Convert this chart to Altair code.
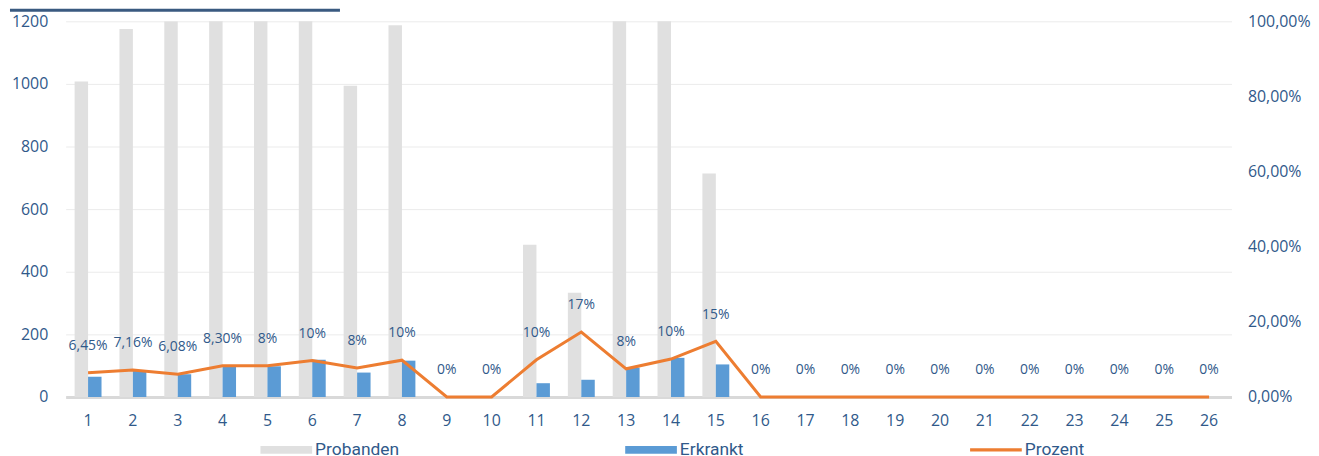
import altair as alt
import pandas as pd

gruppen = [str(i) for i in range(1, 27)]
probanden = [1008, 1175, 1200, 1205, 1225, 1210, 994, 1187, 0, 0, 486, 333, 1240, 1250, 714,
             0, 0, 0, 0, 0, 0, 0, 0, 0, 0, 0]
erkrankt = [65, 84, 73, 100, 98, 119, 78, 116, 0, 0, 44, 55, 94, 125, 104,
            0, 0, 0, 0, 0, 0, 0, 0, 0, 0, 0]
prozent = [0.0645, 0.0716, 0.0608, 0.083, 0.083, 0.097, 0.077, 0.098, 0, 0, 0.099, 0.173,
           0.075, 0.101, 0.148, 0, 0, 0, 0, 0, 0, 0, 0, 0, 0, 0]
prozent_labels = ["6,45%", "7,16%", "6,08%", "8,30%", "8%", "10%", "8%", "10%", "0%", "0%",
                  "10%", "17%", "8%", "10%", "15%", "0%", "0%", "0%", "0%", "0%", "0%",
                  "0%", "0%", "0%", "0%", "0%"]
serien = ["Probanden", "Erkrankt", "Prozent"]
farben = ["#e0e0e0", "#5b9bd5", "#ed7d31"]

TXT = "#30598a"
FONT = "Open Sans"

bars_df = pd.DataFrame({
    "Gruppe": gruppen * 2,
    "series": ["Probanden"] * 26 + ["Erkrankt"] * 26,
    "wert": probanden + erkrankt,
})
line_df = pd.DataFrame({"Gruppe": gruppen, "prozent": prozent, "label": prozent_labels})
leg_df = pd.DataFrame({"Gruppe": ["1"] * 3, "series": serien, "prozent": [0, 0, 0]})

x_enc = alt.X("Gruppe:N", sort=gruppen,
              scale=alt.Scale(paddingInner=0.4, paddingOuter=0.2),
              axis=alt.Axis(title=None, labelAngle=0, labelFontSize=16, labelFont=FONT,
                            labelColor=TXT, ticks=False, domainColor="#d9d9d9",
                            domainWidth=3, labelPadding=16, grid=False))

legend_kw = dict(title=None, orient="none", legendX=196, legendY=405,
                 direction="horizontal", columns=3, columnPadding=227,
                 symbolSize=2704, labelFontSize=17.5, labelFont="Roboto",
                 labelColor=TXT, labelOffset=3, symbolOpacity=1,
                 symbolStrokeWidth=0)

color_enc = alt.Color("series:N", scale=alt.Scale(domain=serien, range=farben),
                      legend=alt.Legend(**legend_kw))

bars = alt.Chart(bars_df).mark_bar(clip=True).encode(
    x=x_enc,
    xOffset=alt.XOffset("series:N", sort=["Probanden", "Erkrankt"],
                        scale=alt.Scale(domain=["Probanden", "Erkrankt"], paddingInner=0.0)),
    y=alt.Y("wert:Q", scale=alt.Scale(domain=[0, 1200], nice=False),
            axis=alt.Axis(title=None, values=[0, 200, 400, 600, 800, 1000, 1200],
                          format="d",
                          labelFontSize=16, labelFont=FONT, labelColor=TXT, ticks=False,
                          domain=False, gridColor="#ebebeb", labelPadding=18)),
    color=color_enc,
)

pct_scale = alt.Scale(domain=[0, 1], nice=False)

line = alt.Chart(line_df).mark_line(strokeWidth=3, color="#ed7d31").encode(
    x=alt.X("Gruppe:N", sort=gruppen),
    y=alt.Y("prozent:Q", scale=pct_scale,
            axis=alt.Axis(title=None, orient="right", values=[0, 0.2, 0.4, 0.6, 0.8, 1.0],
                          labelExpr="replace(format(datum.value, '.2%'), '.', ',')",
                          labelFontSize=16, labelFont=FONT, labelColor=TXT, ticks=False,
                          domain=False, grid=False, labelPadding=16)),
)

labels = alt.Chart(line_df).mark_text(dy=-27, fontSize=14, font=FONT, color=TXT).encode(
    x=alt.X("Gruppe:N", sort=gruppen),
    y=alt.Y("prozent:Q", scale=pct_scale, axis=None),
    text="label:N",
)

legend_pts = alt.Chart(leg_df).mark_point(filled=True, opacity=0).encode(
    x=alt.X("Gruppe:N", sort=gruppen),
    y=alt.Y("prozent:Q", scale=pct_scale, axis=None),
    color=color_enc,
    shape=alt.Shape("series:N", scale=alt.Scale(
        domain=serien,
        range=["M-1,-0.15H1V0.15H-1Z", "M-1,-0.15H1V0.15H-1Z", "M-1,-0.06H1V0.06H-1Z"]),
        legend=alt.Legend(**legend_kw)),
)

deco = alt.Chart(pd.DataFrame({"v": [0]})).mark_rule(color="#3a5a80", strokeWidth=3).encode(
    x=alt.value(-56), x2=alt.value(276), y=alt.value(-11)
)

chart = alt.layer(bars, line, labels, legend_pts, deco).resolve_scale(
    y="independent"
).properties(
    width=1173, height=378,
    padding={"left": 58, "top": 12, "right": 80, "bottom": 58},
    autosize=alt.AutoSizeParams(type="none"),
    background="white",
).configure_view(stroke=None)

chart.save("out.html", embed_options={"renderer": "svg", "actions": False})
